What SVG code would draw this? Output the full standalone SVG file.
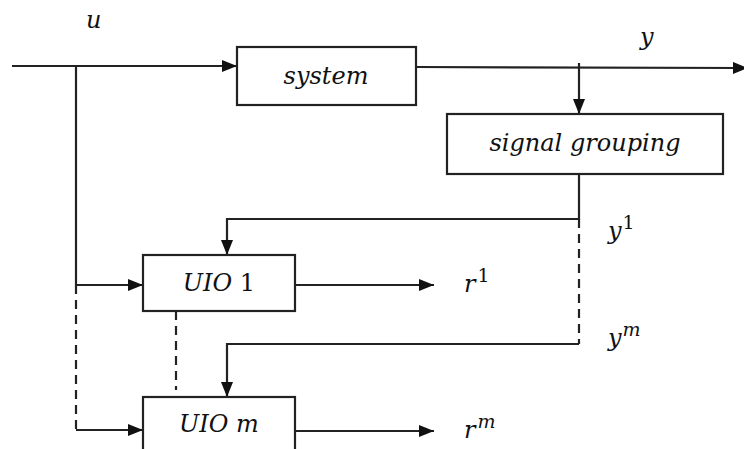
<svg xmlns="http://www.w3.org/2000/svg" width="744" height="449" viewBox="0 0 744 449">
<style>
.box{fill:#fff;stroke:#222;stroke-width:2.2}
.ln{fill:none;stroke:#222;stroke-width:2.2}
.dash{fill:none;stroke:#222;stroke-width:2.2;stroke-dasharray:9,6}
.t{font-family:"DejaVu Serif","Liberation Serif",serif;font-style:italic;font-size:24px;fill:#111}
.n{font-family:"DejaVu Serif","Liberation Serif",serif;font-size:24px;fill:#111}
.sup{font-family:"DejaVu Serif","Liberation Serif",serif;font-size:19px;fill:#111}
.supi{font-family:"DejaVu Serif","Liberation Serif",serif;font-style:italic;font-size:19px;fill:#111}
</style>
<defs>
<marker id="ah" markerWidth="15" markerHeight="12" refX="15" refY="6" orient="auto" markerUnits="userSpaceOnUse">
<path d="M0,0 L15,6 L0,12 Z" fill="#111"/>
</marker>
</defs>
<rect width="744" height="449" fill="#fff"/>
<g id="connectors">
<path class="ln" d="M12,66 L237,66" marker-end="url(#ah)"/>
<path class="ln" d="M416,67 L748,68" marker-end="url(#ah)"/>
<path class="ln" d="M579,63 L579,114" marker-end="url(#ah)"/>
<path class="ln" d="M76,66 L76,285"/>
<path class="ln" d="M76,285 L143,285" marker-end="url(#ah)"/>
<path class="dash" d="M76,285 L76,430"/>
<path class="ln" d="M76,430 L143,430" marker-end="url(#ah)"/>
<path class="ln" d="M579,174 L579,219 L227,219 L227,255" marker-end="url(#ah)"/>
<path class="dash" d="M579,219 L579,344"/>
<path class="ln" d="M579,344 L227,344 L227,397" marker-end="url(#ah)"/>
<path class="dash" d="M176,311 L176,390"/>
<path class="ln" d="M295,285 L434,285" marker-end="url(#ah)"/>
<path class="ln" d="M295,431 L434,431" marker-end="url(#ah)"/>
</g>
<g id="system">
<rect class="box" x="237" y="47" width="179" height="58"/>
<text class="t" x="326" y="84" text-anchor="middle">system</text>
</g>
<g id="signal-grouping">
<rect class="box" x="447" y="114" width="276" height="60"/>
<text class="t" x="585" y="151" text-anchor="middle">signal grouping</text>
</g>
<g id="uio1">
<rect class="box" x="143" y="255" width="152" height="56"/>
<text x="219" y="291" text-anchor="middle"><tspan class="t">UIO</tspan><tspan class="n"> 1</tspan></text>
</g>
<g id="uiom">
<rect class="box" x="143" y="397" width="152" height="60"/>
<text class="t" x="219" y="432" text-anchor="middle">UIO m</text>
</g>
<g id="labels">
<text class="t" x="86" y="28">u</text>
<text class="t" x="640" y="45">y</text>
<text x="608" y="239"><tspan class="t">y</tspan><tspan class="sup" dx="1" dy="-10">1</tspan></text>
<text x="608" y="346"><tspan class="t">y</tspan><tspan class="supi" dx="1" dy="-10">m</tspan></text>
<text x="464" y="292"><tspan class="t">r</tspan><tspan class="sup" dx="2" dy="-10">1</tspan></text>
<text x="464" y="438"><tspan class="t">r</tspan><tspan class="supi" dx="2" dy="-10">m</tspan></text>
</g>
</svg>
